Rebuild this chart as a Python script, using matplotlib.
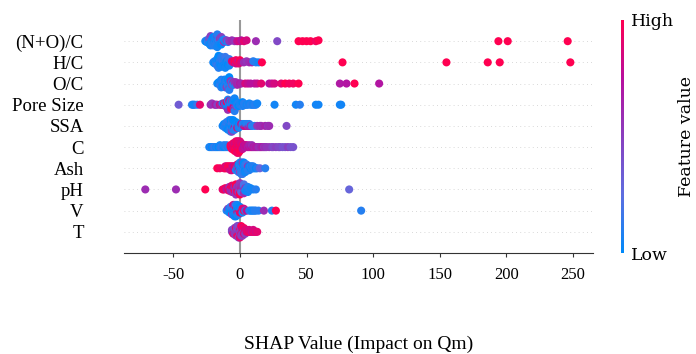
import numpy as np
import matplotlib
matplotlib.use("Agg")
import matplotlib.pyplot as plt
from matplotlib.colors import LinearSegmentedColormap

features = ["(N+O)/C", "H/C", "O/C", "Pore Size", "SSA", "C", "Ash", "pH", "V", "T"]

# (SHAP value, normalised feature value) per sample
no_c_pts = [(-26, .05), (-25, .1), (-25, 0), (-24, .1), (-24, .05), (-24, .15), (-23, 0), (-23, .1), (-23, .45), (-23, .05),
            (-22, .1), (-22, 0), (-22, .2), (-22, .05), (-22, .5), (-21, .1), (-21, 0), (-21, .15), (-21, .05), (-21, .1),
            (-20, 0), (-20, .1), (-20, .05), (-20, .15), (-20, 0), (-20, .1), (-19, .05), (-19, .1), (-19, 0), (-19, .45),
            (-19, .1), (-19, .05), (-18, 0), (-18, .1), (-18, .15), (-18, .05), (-18, .1), (-17, 0), (-17, .1), (-17, .5),
            (-17, .05), (-17, .1), (-16, 0), (-16, .1), (-16, .05), (-16, .15), (-15, .1), (-15, .55), (-15, .05), (-14, .1),
            (-14, 0), (-14, .5), (-13, .1), (-13, .05), (-12, .55), (-12, .1), (-11, .05), (-10, .5), (-9, .1),
            (-8, .55), (-6, .6), (-4, .55), (-2, .8), (0, .85), (1, .75), (3, .9), (5, .85), (12, .6), (28, .45),
            (44, 1), (47, 1), (50, 1), (53, 1), (57, .95), (59, 1), (194, 1), (201, 1), (246, 1)]

hc_pts = [(-20, .05), (-19, .1), (-19, 0), (-18, .15), (-18, .05), (-18, .1), (-17, 0), (-17, .1), (-17, .05), (-17, .15),
          (-16, 0), (-16, .1), (-16, .05), (-16, .1), (-16, 0), (-15, .1), (-15, .05), (-15, 0), (-15, .1), (-15, .05),
          (-14, .15), (-14, 0), (-14, .1), (-14, .05), (-14, .1), (-13, 0), (-13, .1), (-13, .05), (-13, .15), (-12, 0),
          (-12, .1), (-12, .05), (-12, .1), (-11, 0), (-11, .15), (-11, .05), (-10, .1), (-10, 0), (-10, .05), (-9, .1),
          (-9, 0), (-8, .15), (-8, .05), (-7, .1),
          (-6, .9), (-5, .85), (-4, 1), (-3, .8), (-3, .95), (-2, .95), (-1, .7), (-1, .9), (0, 1), (1, .85), (3, .6),
          (5, .55), (7, .6), (9, .65), (10, .1), (12, .1), (14, .05), (16.5, 1), (77, 1), (155, 1), (186, 1), (195, 1), (248, 1)]

oc_pts = [(-17, .05), (-16, .1), (-16, 0), (-15, .15), (-15, .05), (-15, .1), (-14, 0), (-14, .2), (-14, .05), (-14, .1),
          (-13, 0), (-13, .15), (-13, .05), (-13, .1), (-13, 0), (-12, .1), (-12, .05), (-12, 0), (-12, .1), (-12, .05),
          (-12, .15), (-11, .1), (-11, 0), (-11, .05), (-11, .1), (-11, .15), (-11, 0), (-11, .1), (-10, .05), (-10, .1),
          (-10, 0), (-10, .15), (-10, .05), (-10, .1), (-10, .5), (-9, 0), (-9, .1), (-9, .05), (-9, .15), (-9, .1),
          (-9, 0), (-8, .05), (-8, .1), (-8, .5), (-8, 0), (-8, .1), (-7, .05), (-7, .15), (-7, .1), (-7, .55), (-6, 0),
          (-6, .1), (-6, .45), (-5, .05), (-5, .6), (-5, .1), (-4, .1), (-4, .55), (-3, .05), (-3, .6), (-2, .65),
          (-1, .6), (0, .7), (1, .65),
          (4, .85), (6, .8), (8, .75), (11, .75), (13, .8), (16, .9), (22, .75), (24, .8), (26, .85),
          (31, .9), (34, 1), (37, .95), (40, .95), (44, 1), (75, .7), (80, .72), (86, 1), (104.5, .72)]

pore_pts = [(-46, .35), (-36, .1), (-35, .05), (-34, .05), (-32, .15), (-30, .9), (-22, .6), (-21, .55), (-19, .6),
            (-18, .7), (-17, .5), (-15, .85), (-14, .6), (-13, .9), (-13, .1), (-12, .1), (-12, .8), (-11, .1),
            (-11, .05), (-11, .6), (-10, .05), (-10, .1), (-10, 0), (-10, .9), (-9, .1), (-9, .05), (-9, 0), (-9, .1),
            (-9, .6), (-8, 0), (-8, .1), (-8, .05), (-8, .1), (-8, 0), (-8, .85), (-7, .1), (-7, .05), (-7, 0), (-7, .1),
            (-7, .15), (-7, .05), (-7, .9), (-6, .05), (-6, .1), (-6, 0), (-6, .1), (-6, .05), (-6, .5), (-6, 1),
            (-5, .1), (-5, .05), (-5, 0), (-5, .1), (-5, .85), (-5, .05), (-4, .1), (-4, 0), (-4, .9), (-4, .05),
            (-4, .1), (-3, .05), (-3, .1), (-3, .5), (-3, 0), (-2, .1), (-2, .05), (-2, .1), (-1, .05), (-1, .1), (-1, 0),
            (0, .1), (0, .05), (1, .1), (1, .05), (2, .1), (2, 0), (3, .05), (3, .1), (4, .1), (5, .05), (6, .1), (7, .05),
            (8, .1), (9, .1), (10, .05), (11, .1), (12, .1), (13, .05), (26, .05), (42, .05), (45, .1), (57, .05),
            (59, .05), (75, .05), (76, .05)]

ssa_pts = [(-13, .05), (-12, .1), (-12, 0), (-11, .15), (-11, .05), (-11, .1), (-10, 0), (-10, .2), (-10, .05), (-10, .1),
           (-9, 0), (-9, .15), (-9, .05), (-9, .1), (-9, 0), (-8, .1), (-8, .05), (-8, 0), (-8, .1), (-8, .05), (-8, .15),
           (-7, .1), (-7, 0), (-7, .05), (-7, .1), (-7, .15), (-7, 0), (-7, .1), (-6, .05), (-6, .1), (-6, 0), (-6, .15),
           (-6, .05), (-6, .1), (-6, .5), (-5, 0), (-5, .1), (-5, .05), (-5, .15), (-5, .1), (-5, 0), (-4, .05),
           (-4, .1), (-4, .8), (-4, 0), (-4, .1), (-3, .05), (-3, .15), (-3, .1), (-3, 0), (-2, .1), (-2, .05), (-2, .9),
           (-1, .1), (-1, 0), (-1, .05), (0, .1), (0, .05), (1, .1), (1, .85), (2, .05), (2, .1), (3, .75), (3, .1),
           (4, .9), (4, .05), (5, .8), (5, .1), (6, .6), (6, .1), (7, .7), (7, .1), (8, .6), (9, .1), (11, .1),
           (13, .55), (15, .6), (16, .6), (19, .65), (21, .55), (22, .6), (35, .45)]

c_pts = [(-23, .05), (-22, .1), (-21, 0), (-20, .1), (-19, .15), (-18, .05), (-17, .1), (-16, 0), (-15, .1), (-15, .05),
         (-14, .15), (-13, .1), (-12, 0), (-12, .1), (-11, .05), (-10, .15), (-10, .1), (-9, .05), (-8, .1),
         (-7, .9), (-7, 1), (-6, .95), (-6, .85), (-6, 1), (-5, .9), (-5, 1), (-5, .85), (-5, .95), (-4, 1), (-4, .9),
         (-4, .95), (-4, .85), (-4, 1), (-3, .9), (-3, 1), (-3, .95), (-3, .85), (-3, 1), (-3, .9), (-2, .95), (-2, 1),
         (-2, .85), (-2, .9), (-2, 1), (-2, .95), (-2, .9), (-1, 1), (-1, .85), (-1, .95), (-1, .9), (-1, 1), (-1, .9),
         (-1, .95), (0, .9), (0, 1), (0, .85), (0, .95), (0, 1), (0, .9), (1, .95), (1, .9), (1, 1), (1, .85), (2, .9),
         (2, .95), (2, .8),
         (3, .8), (3, .75), (4, .7), (4, .8), (5, .75), (5, .8), (6, .7), (7, .8), (7, .65), (8, .7), (9, .8), (9, .6),
         (10, .7), (11, .65), (12, .7), (13, .7), (14, .6), (15, .6), (16, .65), (17, .7), (18, .55), (19, .6),
         (20, .55), (22, .55), (24, .5), (25, .45), (27, .5), (29, .45), (30, .45), (32, .4), (34, .4), (36, .5),
         (38, .4), (40, .4)]

ash_pts = [(-17, 1), (-15, .95), (-12, .9), (-11, .95), (-11, .9), (-10, 1), (-10, .85), (-9, .9), (-9, 1), (-8, .85),
           (-8, .95), (-7, .9), (-7, 1), (-7, .8), (-6, 1), (-6, .9), (-6, .85), (-5, .95), (-5, .75), (-4, .75),
           (-4, .9), (-3, .9), (-3, .85), (-3, .1), (-2, .7), (-2, .1), (-2, .05), (-2, .9), (-1, .05), (-1, .1),
           (-1, .8), (-1, 0), (-1, .1), (0, .1), (0, 0), (0, .05), (0, .15), (0, .5), (0, .1), (1, .15), (1, .05),
           (1, 0), (1, .1), (1, .2), (1, .05), (1, .1), (2, .1), (2, .2), (2, .05), (2, 0), (2, .1), (2, .5), (2, .15),
           (3, .1), (3, 0), (3, .15), (3, .05), (3, .1), (3, 0), (4, .05), (4, .1), (4, 0), (4, .1), (4, .05), (5, 0),
           (5, .1), (5, .05), (5, .15), (6, .05), (6, .55), (6, .1), (7, .15), (7, 0), (7, .1), (8, 0), (8, .1),
           (9, .1), (9, .05), (10, .05), (10, .1), (11, .1), (12, 0), (13, .1), (15, .3), (19, .1)]

ph_pts = [(-71, .6), (-48, .6), (-26, 1), (-13, .9), (-12, .95), (-11, .95), (-10, .7), (-9, .85), (-9, .9), (-8, .95),
          (-8, .6), (-7, .85), (-7, 1), (-7, .6), (-6, .95), (-6, .6), (-6, .9), (-5, .6), (-5, 1), (-5, .55), (-5, .9),
          (-4, .9), (-4, .55), (-4, 1), (-4, .6), (-3, .5), (-3, .95), (-3, .6), (-3, 1), (-3, .55), (-2, 1), (-2, .6),
          (-2, .9), (-2, .5), (-2, .95), (-1, .8), (-1, .55), (-1, .95), (-1, .6), (-1, .5), (0, .6), (0, .95),
          (0, .5), (0, 1), (0, .55), (1, .7), (1, .9), (1, .5), (1, .6), (1, .3), (2, .5), (2, .9), (2, .2), (2, .6),
          (3, .4), (3, .1), (3, .6), (3, .2), (4, .1), (4, .6), (4, .05), (5, .2), (5, .1), (5, .05), (6, .1),
          (6, .05), (7, .05), (7, .1), (8, .1), (8, .05), (10, .05), (12, .1), (82, .3)]

v_pts = [(-10, .1), (-9, .05), (-9, .5), (-8, .1), (-8, 0), (-8, .05), (-7, .05), (-7, .1), (-7, 0), (-7, .15),
         (-6, .05), (-6, .1), (-6, 0), (-6, .15), (-6, .55), (-5, .05), (-5, .1), (-5, 0), (-5, .15), (-5, .05),
         (-5, .9), (-4, .1), (-4, 0), (-4, .05), (-4, .15), (-4, .1), (-4, .55), (-4, .05), (-3, .1), (-3, 0),
         (-3, .05), (-3, .9), (-3, .1), (-3, .15), (-3, 0), (-2, .05), (-2, .1), (-2, .85), (-2, 0), (-2, .1),
         (-2, .05), (-1, .1), (-1, 0), (-1, .9), (-1, .05), (-1, .1), (0, .05), (0, .1), (0, .95), (0, 0), (1, .85),
         (1, .1), (1, .9), (2, .9), (2, 1), (2, .05), (3, 1), (3, .85), (4, .1), (5, .8), (7, .1), (8, .1), (9, .05),
         (10, .05), (11, .1), (12, .1), (14, .1), (18, .6), (24, .1), (27, 1), (91, .1)]

t_pts = [(-6, .45), (-6, .5), (-5, .5), (-5, .45), (-5, .9), (-4, .45), (-4, .5), (-4, .55), (-4, .4),
         (-3, .5), (-3, .45), (-3, .55), (-3, .9), (-3, .5), (-2, .45), (-2, .5), (-2, .55), (-2, .4), (-2, .95),
         (-2, .5), (-1, .5), (-1, .45), (-1, .55), (-1, .5), (-1, 1), (-1, .4), (-1, .5), (0, .45), (0, .5), (0, .55),
         (0, .95), (0, .5), (0, .45), (0, .9), (1, .5), (1, .45), (1, .9), (1, .55), (1, .5), (1, 1), (2, .5), (2, .9),
         (2, .45), (2, .85), (2, .5), (3, .9), (3, .5), (3, .85), (3, .95), (4, .9), (4, .85), (4, .5), (5, .85),
         (5, .9), (6, .9), (7, .95), (7, .85), (8, .9), (9, .8), (10, .95), (10, .85), (11, .9), (12, .85), (13, .9)]

feature_points = [no_c_pts, hc_pts, oc_pts, pore_pts, ssa_pts, c_pts, ash_pts, ph_pts, v_pts, t_pts]

x_ticks = [-50, 0, 50, 100, 150, 200, 250]

cmap = LinearSegmentedColormap.from_list("red_blue", [
    (0.0, (0.0, 0.543, 0.983)),
    (0.25, (0.37, 0.43, 0.88)),
    (0.5, (0.54, 0.25, 0.75)),
    (0.75, (0.72, 0.06, 0.62)),
    (1.0, (1.0, 0.0, 0.318)),
])

fig = plt.figure(figsize=(6.96, 3.54), dpi=100)
ax = fig.add_axes([124 / 696, 101 / 354, 469 / 696, 233 / 354])

n = len(features)
row_height = 0.4
for i, pts in enumerate(feature_points):
    pos = n - 1 - i
    arr = np.array(pts, dtype=float)
    shaps = arr[:, 0]
    cvals = arr[:, 1]
    N = len(shaps)
    nbins = 100
    quant = np.round(nbins * (shaps - shaps.min()) / (shaps.max() - shaps.min() + 1e-8))
    inds = np.argsort(quant, kind="stable")
    layer = 0
    last_bin = -1
    ys = np.zeros(N)
    for ind in inds:
        if quant[ind] != last_bin:
            layer = 0
        ys[ind] = np.ceil(layer / 2) * ((layer % 2) * 2 - 1)
        layer += 1
        last_bin = quant[ind]
    ys *= 0.9 * (row_height / np.max(ys + 1))
    ax.axhline(y=pos, color="#cccccc", lw=0.6, dashes=(1, 4), zorder=-1)
    ax.scatter(shaps, pos + ys, c=cvals, cmap=cmap, vmin=0, vmax=1, s=34,
               linewidths=0, zorder=3)

ax.axvline(x=0, color="#999999", lw=1.5, zorder=-1)
ax.set_xlim(-87, 265)
ax.set_ylim(-1, n)
ax.set_yticks(range(n))
ax.set_yticklabels(features[::-1], fontsize=13.5, family="Liberation Serif")
ax.tick_params(axis="y", length=0, pad=29)
ax.set_xticks(x_ticks)
ax.set_xticklabels([str(t) for t in x_ticks], fontsize=12, family="Liberation Serif")
ax.tick_params(axis="x", length=3, color="#333333", pad=7)
for s in ["left", "right", "top"]:
    ax.spines[s].set_visible(False)
ax.spines["bottom"].set_color("#333333")
ax.set_xlabel("SHAP Value (Impact on Qm)", fontsize=14, family="Liberation Serif", labelpad=38)

cax = fig.add_axes([621 / 696, 101 / 354, 3 / 696, 233 / 354])
grad = np.linspace(0, 1, 256).reshape(-1, 1)
cax.imshow(grad, aspect="auto", cmap=cmap, origin="lower", extent=[0, 1, 0, 1])
cax.set_xticks([])
cax.yaxis.tick_right()
cax.set_yticks([0, 1])
cax.set_yticklabels(["Low", "High"], fontsize=12.5, family="DejaVu Serif")
cax.tick_params(axis="y", length=0, pad=5)
cax.yaxis.set_label_position("right")
cax.set_ylabel("Feature value", fontsize=12.5, family="DejaVu Serif", labelpad=3)
for s in cax.spines.values():
    s.set_visible(False)

fig.savefig("out.png", dpi=100)
